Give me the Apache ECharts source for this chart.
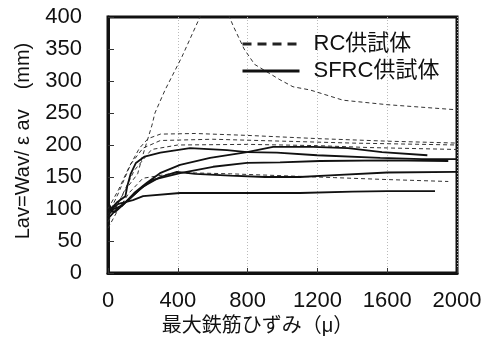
<!DOCTYPE html>
<html>
<head>
<meta charset="utf-8">
<script src="https://cdn.jsdelivr.net/npm/echarts@6/dist/echarts.min.js"></script>
<style>
  html, body { margin: 0; padding: 0; background: #fff; }
  #chart { width: 488px; height: 347px; }
</style>
</head>
<body>
<div id="chart"></div>
<script>
// strain (micro) vs Lav (mm)
const xTicks = [0, 400, 800, 1200, 1600, 2000];
const yTicks = [0, 50, 100, 150, 200, 250, 300, 350, 400];

// RC specimens (dashed)
const rcA = [[0, 80], [40, 100], [100, 130], [170, 155], [195, 180], [223, 205], [252, 231], [269, 250], [327, 286], [424, 338], [527, 400], [620, 450], [716, 387], [780, 350], [840, 326], [985, 302], [1060, 291], [1158, 286], [1347, 270], [1600, 263], [2000, 255]];
const rcB = [[0, 100], [60, 130], [120, 165], [180, 195], [230, 210], [300, 217], [500, 218], [800, 215], [1200, 210], [1600, 206], [2000, 203]];
const rcC = [[0, 90], [60, 125], [130, 170], [200, 195], [300, 207], [600, 209], [1000, 206], [1400, 203], [2000, 200]];
const rcD = [[0, 85], [70, 115], [150, 160], [250, 193], [400, 200], [800, 201], [1200, 199], [1500, 196], [2000, 193]];
const rcE = [[0, 70], [50, 95], [120, 125], [200, 148], [400, 157], [700, 155], [1000, 152], [1300, 149], [1600, 146], [1950, 143]];

// SFRC specimens (solid)
const sfA = [[0, 95], [50, 110], [100, 120], [110, 135], [130, 155], [160, 172], [210, 182], [300, 188], [470, 195], [682, 192], [797, 189], [968, 188], [1198, 184], [1560, 180], [1800, 178], [2000, 178]];
const sfB = [[0, 90], [30, 100], [80, 105], [150, 125], [223, 141], [298, 156], [413, 169], [585, 180], [797, 189], [946, 197], [1175, 197], [1375, 195], [1570, 189], [1830, 184]];
const sfC = [[0, 100], [40, 95], [100, 110], [180, 130], [250, 145], [413, 156], [602, 166], [797, 172], [986, 173], [1215, 175], [1600, 176], [1950, 175]];
const sfD = [[0, 85], [50, 100], [120, 115], [200, 135], [300, 150], [395, 158], [500, 155], [700, 152], [900, 150], [1100, 150], [1300, 153], [1600, 157], [2000, 158]];
const sfE = [[0, 110], [20, 100], [60, 108], [143, 114], [201, 120], [413, 125], [800, 125], [1100, 125], [1400, 127], [1600, 128], [1874, 128]];

const rcName = "RC供試体";
const sfName = "SFRC供試体";
const rcCurves = [rcA, rcB, rcC, rcD, rcE];
const sfCurves = [sfA, sfB, sfC, sfD, sfE];

(function () {
  const FONT = "'Liberation Sans', 'Noto Sans CJK JP', sans-serif";
  const chart = echarts.init(document.getElementById("chart"));

  function makeSeries(name, data, dashed) {
    return {
      name: name,
      type: "line",
      data: data,
      symbol: "none",
      clip: true,
      silent: true,
      itemStyle: { color: "#111" },
      lineStyle: dashed
        ? { color: "#333", width: 1, type: [4, 3] }
        : { color: "#111", width: 1.8 }
    };
  }

  const series = []
    .concat(rcCurves.map((c) => makeSeries(rcName, c, true)))
    .concat(sfCurves.map((c) => makeSeries(sfName, c, false)));

  chart.setOption({
    animation: false,
    backgroundColor: "#fff",
    textStyle: { fontFamily: FONT, color: "#111" },
    grid: {
      left: 108, right: 31, top: 17, bottom: 74,
      show: true, borderColor: "#111", borderWidth: 3
    },
    legend: {
      orient: "vertical",
      left: 236,
      top: 28,
      itemWidth: 57,
      itemHeight: 16,
      itemGap: 5,
      selectedMode: false,
      textStyle: { fontSize: 22, color: "#111", fontFamily: FONT, padding: [0, 0, 0, 9] },
      data: [
        { name: rcName, itemStyle: { opacity: 0 }, lineStyle: { width: 3, type: [9, 6], color: "#222" } },
        { name: sfName, itemStyle: { opacity: 0 }, lineStyle: { width: 3, color: "#111" } }
      ]
    },
    xAxis: {
      type: "value",
      min: xTicks[0],
      max: xTicks[xTicks.length - 1],
      interval: 400,
      name: "最大鉄筋ひずみ（μ）",
      nameLocation: "middle",
      nameGap: 41,
      nameTextStyle: { fontSize: 20, color: "#111", fontFamily: FONT, padding: [0, 50, 0, 0] },
      axisLine: { show: true, lineStyle: { color: "#111", width: 3 } },
      axisTick: { show: true, inside: true, length: 5, lineStyle: { color: "#333" } },
      axisLabel: { fontSize: 22, color: "#111", margin: 17, formatter: (v) => String(v) },
      splitLine: { show: true, lineStyle: { color: "#bbb", type: [1, 2], width: 1 } }
    },
    yAxis: {
      type: "value",
      min: yTicks[0],
      max: yTicks[yTicks.length - 1],
      interval: 50,
      name: "Lav=Wav/ ε av　(mm)",
      nameLocation: "middle",
      nameGap: 75,
      nameTextStyle: { fontSize: 20, color: "#111", fontFamily: FONT, padding: [0, 0, 0, 8] },
      axisLine: { show: true, lineStyle: { color: "#111", width: 3 } },
      axisTick: { show: true, inside: true, length: 6, lineStyle: { color: "#333" } },
      axisLabel: { fontSize: 22, color: "#111", margin: 26 },
      splitLine: { show: false }
    },
    series: series
  });
})();
</script>
</body>
</html>
